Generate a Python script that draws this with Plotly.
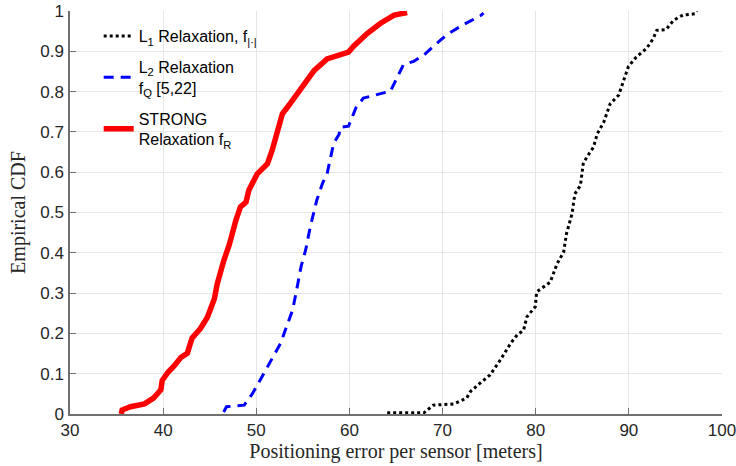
import plotly.graph_objects as go

# Red: STRONG relaxation
strong_x = [35.5, 35.6, 36.5, 38.0, 39.0, 39.75, 39.9, 40.5, 41.2, 41.9, 42.6, 43.1, 44.0, 44.75,
            45.5, 45.8, 46.5, 47.1, 47.8, 48.3, 48.9, 49.2, 50.1, 51.2, 51.7, 52.3, 52.8, 53.5,
            54.6, 55.3, 56.2, 57.6, 59.0, 59.9, 60.5, 61.9, 63.3, 64.8, 66.2]
strong_y = [0.0, 0.01, 0.018, 0.025, 0.04, 0.06, 0.083, 0.103, 0.12, 0.14, 0.151, 0.188, 0.212, 0.24,
            0.286, 0.322, 0.38, 0.42, 0.48, 0.514, 0.526, 0.555, 0.596, 0.621, 0.654, 0.704, 0.745, 0.766,
            0.803, 0.823, 0.852, 0.881, 0.890, 0.898, 0.914, 0.944, 0.969, 0.99, 0.996]

# Blue: L2 relaxation
l2_x = [46.5, 46.8, 48.7, 49.6, 50.6, 51.5, 52.6, 53.3, 53.9, 54.4, 54.8, 55.3, 55.8, 56.5,
        57.1, 57.6, 58.3, 58.9, 59.0, 59.9, 60.7, 61.5, 62.3, 64.4, 65.1, 65.8, 66.9, 68.0,
        69.0, 70.5, 72.3, 74.05, 74.4]
l2_y = [0.005, 0.018, 0.022, 0.051, 0.092, 0.130, 0.175, 0.22, 0.258, 0.316, 0.365, 0.407, 0.465, 0.531,
        0.572, 0.596, 0.671, 0.695, 0.711, 0.714, 0.76, 0.784, 0.789, 0.801, 0.834, 0.867, 0.875, 0.891,
        0.912, 0.942, 0.967, 0.988, 0.995]

# Black: L1 relaxation
l1_x = [64.05, 68.0, 69.0, 71.2, 72.6, 73.0, 74.05, 75.1, 76.2, 77.3, 78.0, 78.7, 79.05, 79.95,
        80.1, 81.55, 82.3, 83.0, 83.3, 83.9, 84.2, 84.8, 85.1, 85.5, 86.2, 86.6, 87.3, 88.0,
        88.9, 89.4, 89.95, 90.8, 91.9, 92.6, 93.0, 94.0, 94.8, 95.8, 97.1, 97.3]
l1_y = [0.003, 0.003, 0.022, 0.025, 0.04, 0.056, 0.077, 0.097, 0.134, 0.175, 0.196, 0.208, 0.241, 0.266,
        0.303, 0.327, 0.373, 0.402, 0.447, 0.497, 0.546, 0.567, 0.621, 0.638, 0.662, 0.695, 0.724, 0.77,
        0.791, 0.824, 0.862, 0.886, 0.907, 0.931, 0.952, 0.954, 0.977, 0.99, 0.993, 1.0]

names = ["L<sub>1</sub> Relaxation, f<sub>|·|</sub>",
         "L<sub>2</sub> Relaxation<br>f<sub>Q</sub> [5,22]",
         "STRONG<br>Relaxation f<sub>R</sub>"]

x_ticks = [30, 40, 50, 60, 70, 80, 90, 100]
y_ticks = [0, 0.1, 0.2, 0.3, 0.4, 0.5, 0.6, 0.7, 0.8, 0.9, 1]

fig = go.Figure()
fig.add_trace(go.Scatter(x=l1_x, y=l1_y, mode="lines", name=names[0], legendgroup="a",
                         line=dict(color="black", width=3, dash="3px,3px")))
fig.add_trace(go.Scatter(x=l2_x, y=l2_y, mode="lines", name=names[1], legendgroup="b",
                         line=dict(color="#0000ff", width=3, dash="10px,7px")))
fig.add_trace(go.Scatter(x=strong_x, y=strong_y, mode="lines", name=names[2], legendgroup="c",
                         line=dict(color="#ff0000", width=5.5)))

axis_common = dict(showgrid=True, gridcolor="#e6e6e6", gridwidth=1,
                   showline=True, linecolor="#707070", linewidth=1.5,
                   ticks="inside", ticklen=6, tickcolor="#707070",
                   tickfont=dict(family="Liberation Sans, Arial, sans-serif", size=17, color="#262626"),
                   zeroline=False, mirror=False, automargin=False,
                   ticklabeloverflow="allow")

fig.update_layout(
    width=736, height=466,
    margin=dict(l=70, r=14, t=11, b=52),
    paper_bgcolor="white", plot_bgcolor="white",
    xaxis=dict(range=[30, 100], tickvals=x_ticks,
               title=dict(text="Positioning error per sensor [meters]", standoff=5,
                          font=dict(family="Liberation Serif, Times New Roman, serif", size=20, color="#262626")),
               **axis_common),
    yaxis=dict(range=[0, 1], tickvals=y_ticks, ticklabelstandoff=1,
               title=dict(text="Empirical CDF", standoff=9,
                          font=dict(family="Liberation Serif, Times New Roman, serif", size=20, color="#262626")),
               **axis_common),
    legend=dict(x=0.044, y=0.98, xanchor="left", yanchor="top",
                bgcolor="rgba(0,0,0,0)", borderwidth=0,
                font=dict(family="Liberation Sans, Arial, sans-serif", size=16, color="#000000"),
                itemwidth=30, tracegroupgap=7),
    showlegend=True,
)

fig.write_html("out.html", config={"displayModeBar": False},
               post_script="document.body.style.margin='0';")
